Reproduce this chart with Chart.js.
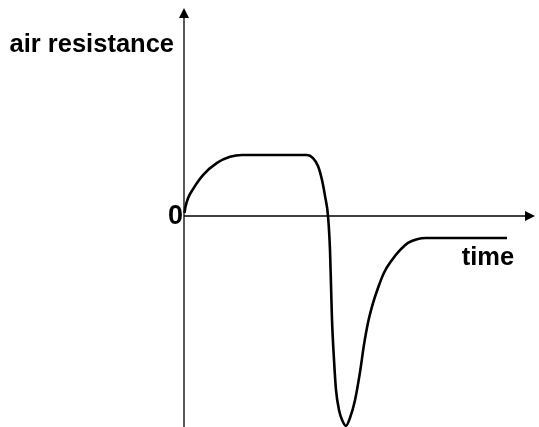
<!DOCTYPE html>
<html>
<head>
<meta charset="utf-8">
<script src="https://cdn.jsdelivr.net/npm/chart.js@4.4.1/dist/chart.umd.min.js"></script>
<style>
  html, body { margin: 0; padding: 0; background: #ffffff; }
  #wrap { position: relative; width: 539px; height: 427px; }
</style>
</head>
<body>
<div id="wrap"><canvas id="c"></canvas></div>
<script>
// Time values (arbitrary units) and air-resistance values (arbitrary units)
const timeValues = [0.5, 1.5, 4, 9, 19, 33, 46, 58, 70, 90, 111, 123, 129, 134, 138, 141, 144, 146, 147, 148, 150, 152, 155, 158, 162, 166, 171, 176, 180, 184, 189, 194, 200, 208, 216, 224, 233, 242, 260, 290, 323];
const resistanceValues = [0.05, 0.15, 0.29, 0.44, 0.67, 0.87, 0.97, 1.0, 1.0, 1.0, 1.0, 1.0, 0.95, 0.82, 0.59, 0.33, 0, -0.56, -1.13, -1.70, -2.36, -2.85, -3.18, -3.34, -3.44, -3.31, -3.02, -2.56, -2.11, -1.75, -1.43, -1.18, -0.93, -0.72, -0.56, -0.44, -0.38, -0.36, -0.36, -0.36, -0.36];
const xRange = [0, 351];
const yRange = [-3.46, 3.41];
const yTickLabels = ['0'];
const yAxisTitle = 'air resistance';
const xAxisTitle = 'time';

const points = timeValues.map((t, i) => ({ x: t, y: resistanceValues[i] }));

const axesPlugin = {
  id: 'axesArrows',
  afterDatasetsDraw(chart) {
    const ctx = chart.ctx;
    const xs = chart.scales.x, ys = chart.scales.y;
    const x0 = xs.getPixelForValue(0);
    const y0 = ys.getPixelForValue(0);
    const left = xs.getPixelForValue(xRange[0]);
    const right = xs.getPixelForValue(xRange[1]);
    const top = ys.getPixelForValue(yRange[1]);
    const bottom = ys.getPixelForValue(yRange[0]);
    ctx.save();
    ctx.strokeStyle = '#000';
    ctx.fillStyle = '#000';
    ctx.lineWidth = 1.3;
    // y axis
    ctx.beginPath();
    ctx.moveTo(x0, bottom);
    ctx.lineTo(x0, top + 8);
    ctx.stroke();
    // x axis
    ctx.beginPath();
    ctx.moveTo(left, y0);
    ctx.lineTo(right - 8, y0);
    ctx.stroke();
    // arrow heads
    ctx.beginPath();
    ctx.moveTo(x0, top);
    ctx.lineTo(x0 - 5, top + 10);
    ctx.lineTo(x0 + 5, top + 10);
    ctx.closePath();
    ctx.fill();
    ctx.beginPath();
    ctx.moveTo(right, y0);
    ctx.lineTo(right - 10, y0 - 5);
    ctx.lineTo(right - 10, y0 + 5);
    ctx.closePath();
    ctx.fill();
    // texts
    ctx.font = 'bold 25.5px "Liberation Sans", Arial, sans-serif';
    ctx.textBaseline = 'alphabetic';
    ctx.textAlign = 'right';
    ctx.fillText(yAxisTitle, x0 - 10, top + 44);
    ctx.font = 'bold 27px "Liberation Sans", Arial, sans-serif';
    ctx.textBaseline = 'middle';
    ctx.fillText(yTickLabels[0], x0 - 1, y0 + 1);
    ctx.font = 'bold 25.5px "Liberation Sans", Arial, sans-serif';
    ctx.textAlign = 'center';
    ctx.textBaseline = 'alphabetic';
    ctx.fillText(xAxisTitle, xs.getPixelForValue(304), ys.getPixelForValue(-0.8));
    ctx.restore();
  }
};

new Chart(document.getElementById('c'), {
  type: 'line',
  data: {
    datasets: [{
      data: points,
      borderColor: '#000',
      borderWidth: 2.6,
      pointRadius: 0,
      fill: false,
      cubicInterpolationMode: 'monotone',
      clip: false
    }]
  },
  options: {
    responsive: true,
    maintainAspectRatio: false,
    animation: false,
    layout: { padding: { left: 184, right: 4, top: 8, bottom: 0 } },
    plugins: { legend: { display: false }, tooltip: { enabled: false } },
    scales: {
      x: { type: 'linear', display: false, min: xRange[0], max: xRange[1] },
      y: { type: 'linear', display: false, min: yRange[0], max: yRange[1] }
    }
  },
  plugins: [axesPlugin]
});
</script>
</body>
</html>
